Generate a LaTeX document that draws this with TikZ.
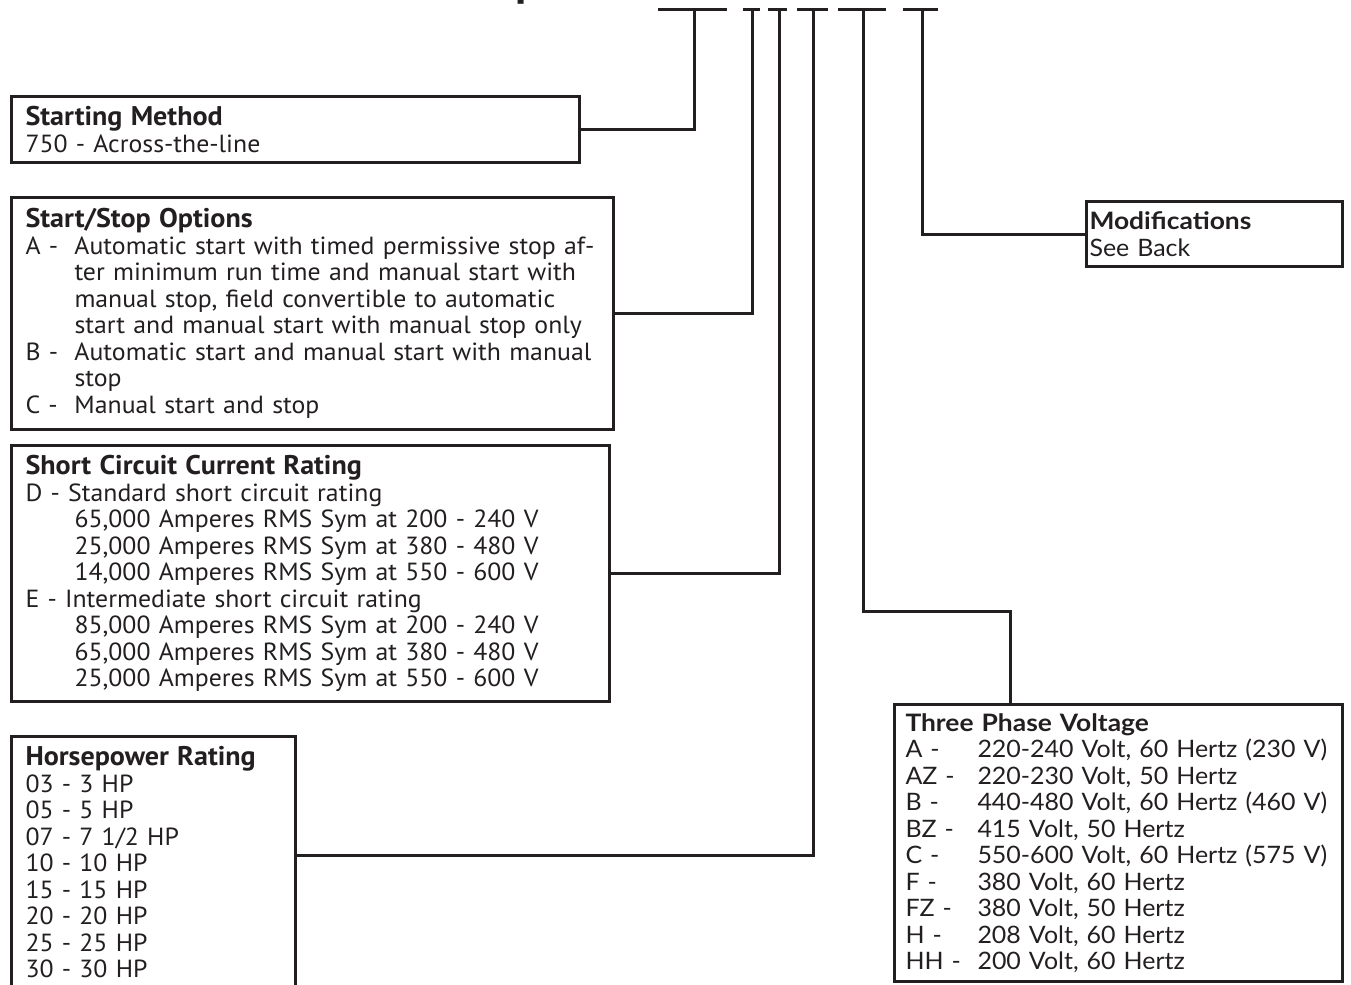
\documentclass[tikz,border=0pt]{standalone}
\usepackage{fontspec}
\setmainfont{PT Sans}[FakeStretch=1.04]
\newfontfamily\widefont{Lato}[FakeStretch=1.04]
\newfontfamily\wideheadfont{Lato}[FakeStretch=1.1]
\usepackage{tikz}
\usetikzlibrary{positioning}
\definecolor{ink}{HTML}{231F20}
\tikzstyle{group} = [rectangle, draw=ink, line width=1.5pt, align=left, anchor=north west, inner ysep=2pt, text=ink, font=\fontsize{12.4}{13.25}\selectfont]
\tikzstyle{wide} = [font=\widefont\fontsize{12}{13.25}\selectfont]
\tikzstyle{link} = [draw=ink, line width=1.5pt]
\tikzstyle{bar} = [draw=ink, line width=1.5pt]
\newcommand{\opt}[1]{\makebox[24.5pt][l]{#1}}
\newcommand{\cont}{\hspace*{24.5pt}}
\newcommand{\volt}[1]{\makebox[36pt][l]{#1}}
\newcommand{\head}[1]{{\fontsize{13.5}{13.25}\selectfont\bfseries #1}}
\newcommand{\widehead}[1]{{\wideheadfont\bfseries #1}}

\begin{document}
\begin{tikzpicture}[x=0.5pt, y=-0.5pt]
\useasboundingbox (0,0) rectangle (1351,985);
\node (ttl) [anchor=base west, inner sep=0pt, text=ink, font=\fontsize{22}{22}\bfseries\selectfont] at (515,-4) {p};
% code positions along the top
\foreach \a/\b in {658/727, 743/760, 768/787, 797/828, 838/886, 903/938}
  \draw [bar] (\a,9) -- (\b,9);
\coordinate (t1) at (694,9);
\coordinate (t2) at (752,9);
\coordinate (t3) at (779,9);
\coordinate (t4) at (813,9);
\coordinate (t5) at (863,9);
\coordinate (t6) at (922,9);
\node (sm) [group, inner xsep=7pt, text width=270pt, minimum height=33pt] at (10,95) {\head{Starting Method}\\750 - Across-the-line};
\node (ss) [group, inner xsep=7pt, text width=287pt, minimum height=116pt, below=16pt of sm.south west, anchor=north west] {\head{Start/Stop Options}\\
\opt{A -}Automatic start with timed permissive stop af-\\
\cont ter minimum run time and manual start with\\
\cont manual stop, field convertible to automatic\\
\cont start and manual start with manual stop only\\
\opt{B -}Automatic start and manual start with manual\\
\cont stop\\
\opt{C -}Manual start and stop};
\node (sc) [group, inner xsep=7pt, text width=285pt, minimum height=128pt, below=6.5pt of ss.south west, anchor=north west] {\head{Short Circuit Current Rating}\\
D - Standard short circuit rating\\
\cont 65,000 Amperes RMS Sym at 200 - 240 V\\
\cont 25,000 Amperes RMS Sym at 380 - 480 V\\
\cont 14,000 Amperes RMS Sym at 550 - 600 V\\
E - Intermediate short circuit rating\\
\cont 85,000 Amperes RMS Sym at 200 - 240 V\\
\cont 65,000 Amperes RMS Sym at 380 - 480 V\\
\cont 25,000 Amperes RMS Sym at 550 - 600 V};
\node (hp) [group, inner xsep=7pt, text width=128pt, minimum height=126pt, below=16pt of sc.south west, anchor=north west] {\head{Horsepower Rating}\\
03 - 3 HP\\05 - 5 HP\\07 - 7 1/2 HP\\10 - 10 HP\\15 - 15 HP\\20 - 20 HP\\25 - 25 HP\\30 - 30 HP};
\node (tpv) [group, wide, inner xsep=5.5pt, text width=213pt, minimum height=138.5pt] at (893,703) {\widehead{Three Phase Voltage}\\
\volt{A -}220-240 Volt, 60 Hertz (230 V)\\
\volt{AZ -}220-230 Volt, 50 Hertz\\
\volt{B -}440-480 Volt, 60 Hertz (460 V)\\
\volt{BZ -}415 Volt, 50 Hertz\\
\volt{C -}550-600 Volt, 60 Hertz (575 V)\\
\volt{F -}380 Volt, 60 Hertz\\
\volt{FZ -}380 Volt, 50 Hertz\\
\volt{H -}208 Volt, 60 Hertz\\
\volt{HH -}200 Volt, 60 Hertz};
\node (mod) [group, wide, inner xsep=1.5pt, text width=125pt, minimum height=32.5pt] at (1085,200) {\widehead{Modifications}\\See Back};
\draw [link] (sm.east) -| (t1);
\draw [link] (ss.east) -| (t2);
\draw [link] (sc.east) -| (t3);
\draw [link] ([yshift=-60pt]hp.north east) -| (t4);
\draw [link] ([xshift=58.5pt]tpv.north west) -- ++(0,-92) -| (t5);
\draw [link] (mod.west) -| (t6);
\end{tikzpicture}
\end{document}
